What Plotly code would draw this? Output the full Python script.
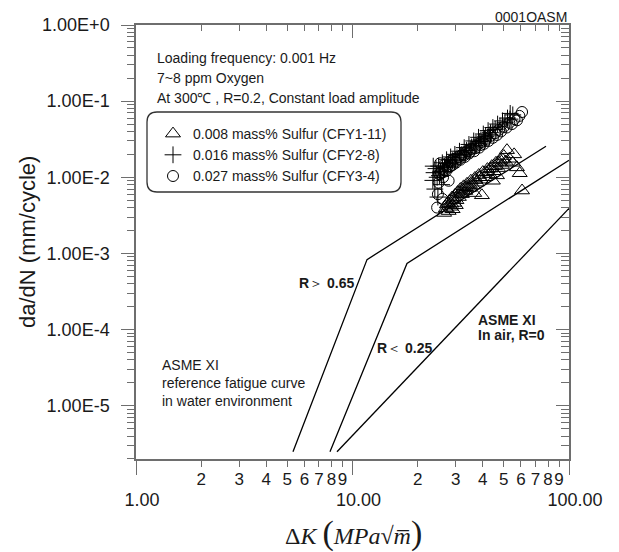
import plotly.graph_objects as go

# ---------------- data ----------------
# 0.008 mass% Sulfur (CFY1-11)
tri_dk = [26.5, 27.0, 27.3, 27.8, 28.0, 28.4, 28.8, 29.0, 29.5, 29.8, 30.2, 30.6,
          31.0, 31.5, 32.0, 32.6, 33.2, 33.8, 34.5, 35.2, 36.0, 36.8, 37.5, 38.3,
          39.2, 39.6, 40.0, 41.0, 42.0, 43.0, 44.0, 45.0, 46.0, 46.5, 47.0, 48.0,
          49.0, 50.0, 51.0, 51.7, 53.0, 55.0, 57.5, 59.2, 60.7, 55.8, 44.5, 36.5,
          27.6, 28.6, 29.3, 30.0, 31.2, 32.3, 33.5, 34.8, 37.0, 38.8, 41.5, 43.5,
          45.5, 47.5, 49.5]
tri_rate = [3.4e-3, 3.9e-3, 4.4e-3, 3.6e-3, 4.9e-3, 4.1e-3, 5.4e-3, 3.8e-3, 4.6e-3, 5.9e-3, 5.0e-3, 6.4e-3,
            5.5e-3, 7.0e-3, 6.0e-3, 7.6e-3, 6.6e-3, 8.2e-3, 7.2e-3, 9.0e-3, 7.8e-3, 9.8e-3, 8.5e-3, 1.07e-2,
            9.3e-3, 5.8e-3, 1.17e-2, 1.0e-2, 1.28e-2, 1.1e-2, 1.4e-2, 1.2e-2, 1.55e-2, 1.06e-2, 1.32e-2, 1.7e-2,
            1.45e-2, 1.9e-2, 1.6e-2, 2.27e-2, 1.75e-2, 1.55e-2, 1.35e-2, 1.13e-2, 6.7e-3, 2.0e-2, 9.0e-3, 6.2e-3,
            4.6e-3, 4.5e-3, 5.2e-3, 4.3e-3, 6.2e-3, 6.8e-3, 7.4e-3, 8.0e-3, 9.2e-3, 1.0e-2, 1.16e-2, 1.3e-2,
            1.4e-2, 1.55e-2, 1.7e-2]

# 0.016 mass% Sulfur (CFY2-8)
plus_dk = [23.5, 23.8, 24.0, 24.3, 24.6, 25.0, 25.5, 26.0, 26.6, 27.2, 27.8, 28.4,
           29.0, 29.7, 30.4, 31.2, 32.0, 32.8, 33.6, 34.5, 35.4, 36.3, 37.2, 38.2,
           39.2, 40.2, 41.2, 42.3, 43.4, 44.5, 45.6, 46.8, 48.0, 49.3, 50.6, 52.0,
           53.4, 55.0, 53.5, 24.8, 25.8, 23.6,
           25.2, 26.3, 27.5, 28.8, 30.0, 31.6, 33.2, 35.0, 36.8, 38.7, 40.7, 42.8]
plus_rate = [9.1e-3, 1.15e-2, 7.0e-3, 1.3e-2, 1.0e-2, 1.4e-2, 1.2e-2, 1.55e-2, 1.35e-2, 1.7e-2, 1.5e-2, 1.85e-2,
             1.65e-2, 2.0e-2, 1.8e-2, 2.2e-2, 2.0e-2, 2.45e-2, 2.25e-2, 2.7e-2, 2.5e-2, 3.0e-2, 2.8e-2, 3.35e-2,
             3.1e-2, 3.7e-2, 3.45e-2, 4.1e-2, 3.85e-2, 4.5e-2, 4.25e-2, 5.0e-2, 4.7e-2, 5.5e-2, 5.2e-2, 6.0e-2,
             5.8e-2, 6.6e-2, 6.9e-2, 5.5e-3, 8.0e-3, 1.4e-2,
             1.05e-2, 1.2e-2, 1.4e-2, 1.55e-2, 1.7e-2, 1.95e-2, 2.1e-2, 2.35e-2, 2.6e-2, 2.95e-2, 3.25e-2, 3.6e-2]

# 0.027 mass% Sulfur (CFY3-4)
circ_dk = [24.6, 24.8, 25.0, 25.2, 25.4, 25.8, 26.2, 26.5, 27.0, 27.5, 28.0, 28.5,
           29.0, 29.5, 30.0, 30.8, 31.5, 32.2, 33.0, 33.8, 34.5, 35.5, 36.5, 37.5,
           38.5, 39.5, 40.5, 41.5, 42.5, 43.5, 44.5, 45.5, 46.5, 47.5, 48.5, 50.0,
           51.5, 53.0, 54.5, 56.0, 57.5, 59.0, 60.7, 27.8, 26.0,
           25.6, 26.8, 28.2, 29.8, 31.2, 32.8, 34.8, 36.8, 39.0, 41.0]
circ_rate = [4.0e-3, 6.0e-3, 8.5e-3, 1.1e-2, 1.53e-2, 1.3e-2, 1.0e-2, 1.45e-2, 1.2e-2, 1.55e-2, 1.35e-2, 1.65e-2,
             1.45e-2, 1.75e-2, 1.55e-2, 1.85e-2, 1.7e-2, 2.0e-2, 1.85e-2, 2.2e-2, 2.05e-2, 2.35e-2, 2.2e-2, 2.6e-2,
             2.45e-2, 2.9e-2, 2.75e-2, 3.2e-2, 3.0e-2, 3.5e-2, 3.3e-2, 3.8e-2, 3.6e-2, 4.2e-2, 4.0e-2, 4.6e-2,
             4.5e-2, 5.2e-2, 5.0e-2, 5.8e-2, 5.6e-2, 6.4e-2, 7.2e-2, 9.0e-3, 5.2e-3,
             1.15e-2, 1.25e-2, 1.4e-2, 1.6e-2, 1.75e-2, 1.95e-2, 2.15e-2, 2.4e-2, 2.65e-2, 3.0e-2]

# ASME XI reference curves (vertices in ΔK, da/dN)
water_hi_dk = [5.31, 11.67, 78.3]
water_hi_rate = [2.48e-6, 8.3e-4, 2.56e-2]
water_lo_dk = [7.87, 17.85, 100.0]
water_lo_rate = [2.48e-6, 7.4e-4, 1.67e-2]
air_dk = [8.48, 100.0]
air_rate = [2.48e-6, 3.9e-3]

# axis ticks
x_major = [1, 10, 100]
x_major_text = ["1.00", "10.00", "100.00"]
x_minor = [m * d for d in (1, 10) for m in range(2, 10)]
x_minor_text = [str(m) for d in (1, 10) for m in range(2, 10)]
y_major = [1, 1e-1, 1e-2, 1e-3, 1e-4, 1e-5]
y_major_text = ["1.00E+0", "1.00E-1", "1.00E-2", "1.00E-3", "1.00E-4", "1.00E-5"]
y_minor = [m * 10.0 ** e for e in range(-6, 0) for m in range(2, 10)]

series_names = ["0.008 mass% Sulfur (CFY1-11)",
                "0.016 mass% Sulfur (CFY2-8)",
                "0.027 mass% Sulfur (CFY3-4)"]

# ---------------- layout helpers ----------------
W, H = 619, 552
L, R, T, B = 136, 569, 25, 459
FONT = "Liberation Sans, Arial, sans-serif"
INK = "#1a1a1a"
AXC = "#6e6e6e"


def fx(p):
    return (p - L) / (R - L)


def fy(p):
    return (B - p) / (B - T)


def rounded_box(x0, y0, x1, y1, r):
    X0, X1 = fx(x0), fx(x1)
    Y0, Y1 = fy(y0), fy(y1)
    rx = r / (R - L)
    ry = r / (B - T)
    return (f"M {X0 + rx},{Y0} L {X1 - rx},{Y0} Q {X1},{Y0} {X1},{Y0 - ry} "
            f"L {X1},{Y1 + ry} Q {X1},{Y1} {X1 - rx},{Y1} "
            f"L {X0 + rx},{Y1} Q {X0},{Y1} {X0},{Y1 + ry} "
            f"L {X0},{Y0 - ry} Q {X0},{Y0} {X0 + rx},{Y0} Z")


fig = go.Figure()

for xs, ys in [(water_hi_dk, water_hi_rate), (water_lo_dk, water_lo_rate), (air_dk, air_rate)]:
    fig.add_trace(go.Scatter(x=xs, y=ys, mode="lines", line=dict(color="black", width=1.3),
                             showlegend=False, hoverinfo="skip"))

fig.add_trace(go.Scatter(x=tri_dk, y=tri_rate, mode="markers", name=series_names[0],
                         marker=dict(symbol="triangle-up-open", size=13, color="black",
                                     line=dict(width=1, color="black"))))
fig.add_trace(go.Scatter(x=plus_dk, y=plus_rate, mode="markers", name=series_names[1],
                         marker=dict(symbol="cross-thin-open", size=12, color="black",
                                     line=dict(width=1, color="black"))))
fig.add_trace(go.Scatter(x=circ_dk, y=circ_rate, mode="markers", name=series_names[2],
                         marker=dict(symbol="circle-open", size=11, color="black",
                                     line=dict(width=1, color="black"))))

# carriers for the mirrored frame axes and the minor-digit labels
fig.add_trace(go.Scatter(x=[], y=[], xaxis="x2", yaxis="y2", showlegend=False))
fig.add_trace(go.Scatter(x=[], y=[], xaxis="x3", yaxis="y", showlegend=False))

xr = [0, 2]
yr = [-5.7, 0]

fig.update_layout(
    width=W, height=H,
    margin=dict(l=L, r=W - R, t=T, b=H - B, pad=0),
    paper_bgcolor="white", plot_bgcolor="white",
    font=dict(family=FONT, color=INK, size=14),
    xaxis=dict(type="log", range=xr, showgrid=False, zeroline=False,
               showline=True, linecolor=AXC, linewidth=1.5,
               tickmode="array", tickvals=x_major, ticktext=x_major_text,
               ticks="outside", ticklen=14, tickwidth=1.3, tickcolor=AXC, tickangle=0,
               tickfont=dict(size=18, color=INK), ticklabelstandoff=10, ticklabelshift=6,
               minor=dict(tickmode="array", tickvals=x_minor, ticks="outside",
                          ticklen=6, tickwidth=1.3, tickcolor=AXC)),
    xaxis3=dict(type="log", range=xr, overlaying="x", anchor="y", side="bottom",
                showgrid=False, zeroline=False, showline=False,
                tickmode="array", tickvals=x_minor, ticktext=x_minor_text, tickangle=0,
                ticks="", tickfont=dict(size=17, color=INK), ticklabelstandoff=8),
    xaxis2=dict(type="log", range=xr, overlaying="x", anchor="y2", side="top",
                showgrid=False, zeroline=False, showline=True, linecolor=AXC, linewidth=1.5,
                tickmode="array", tickvals=[10], ticks="inside", ticklen=13,
                tickwidth=1.3, tickcolor=AXC, showticklabels=False,
                minor=dict(tickmode="array", tickvals=x_minor, ticks="inside",
                           ticklen=6, tickwidth=1.3, tickcolor=AXC)),
    yaxis=dict(type="log", range=yr, showgrid=False, zeroline=False,
               showline=True, linecolor=AXC, linewidth=1.5,
               tickmode="array", tickvals=y_major, ticktext=y_major_text,
               ticks="outside", ticklen=13, tickwidth=1.3, tickcolor=AXC,
               tickfont=dict(size=18, color=INK), ticklabelstandoff=8,
               minor=dict(tickmode="array", tickvals=y_minor, ticks="outside",
                          ticklen=7, tickwidth=1.3, tickcolor=AXC)),
    yaxis2=dict(type="log", range=yr, overlaying="y", anchor="x2", side="right",
                showgrid=False, zeroline=False, showline=True, linecolor=AXC, linewidth=1.5,
                tickmode="array", tickvals=y_major, ticks="inside", ticklen=13,
                tickwidth=1.3, tickcolor=AXC, showticklabels=False,
                minor=dict(tickmode="array", tickvals=y_minor, ticks="inside",
                           ticklen=8, tickwidth=1.3, tickcolor=AXC)),
    legend=dict(x=fx(153), y=fy(118), xanchor="left", yanchor="top",
                bgcolor="rgba(0,0,0,0)", borderwidth=0, tracegroupgap=0,
                font=dict(size=14, color=INK, family=FONT)),
    showlegend=True,
)

fig.add_shape(type="path", xref="paper", yref="paper",
              path=rounded_box(147, 112, 401, 192, 10),
              line=dict(color="#333333", width=1.3), fillcolor="rgba(0,0,0,0)")

anns = []


def note(text, x, y, size=14, xanchor="left", yanchor="middle", bold=False, **kw):
    if bold:
        text = f"<b>{text}</b>"
    anns.append(dict(text=text, x=fx(x), y=fy(y), xref="paper", yref="paper",
                     xanchor=xanchor, yanchor=yanchor, showarrow=False, align="left",
                     font=dict(size=size, color=INK, family=kw.pop("family", FONT)), **kw))


note("0001OASM", 569, 17, size=14, xanchor="right")
note("Loading frequency: 0.001 Hz", 155, 58)
note("7~8 ppm Oxygen", 155, 78)
note("At 300℃ , R=0.2, Constant load amplitude", 155, 98)

note("<b>R</b>＞<b> 0.65</b>", 297, 283)
note("<b>R</b>＜<b> 0.25</b>", 375, 348)
note("ASME XI", 476, 320, bold=True)
note("In air, R=0", 476, 335, bold=True)

note("ASME XI<br>reference fatigue curve<br>in water environment", 160, 383, size=14)

note("da/dN (mm/cycle)", 27, 242, size=22, xanchor="center", textangle=-90)
note('Δ<i>K</i> <span style="font-size:34px">(</span><i>MPa</i>√<i>m̅</i>'
     '<span style="font-size:34px">)</span>', 353, 533, size=24, xanchor="center",
     family="Liberation Serif, Times New Roman, serif")

fig.update_layout(annotations=anns)

fig.write_html("out.html")
